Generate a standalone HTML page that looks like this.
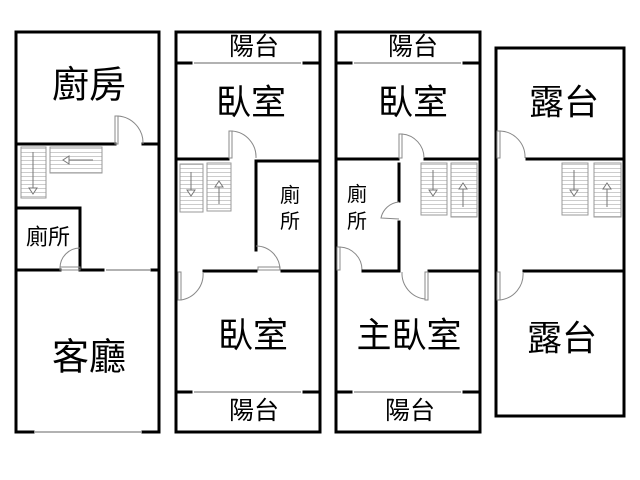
<!DOCTYPE html>
<html><head><meta charset="utf-8"><style>
html,body{margin:0;padding:0;background:#fff;}
svg{display:block}
text{font-family:"Liberation Sans","Noto Sans CJK TC",sans-serif;fill:#000;text-anchor:middle;dominant-baseline:central}
.w{stroke:#000;stroke-width:3;fill:none;stroke-linecap:square}
.g{stroke:#999;stroke-width:1.5;fill:none}
.d{stroke:#888;stroke-width:1;fill:none}
.s{fill:url(#st);stroke:#999;stroke-width:1}
.a{stroke:#777;stroke-width:1;fill:#fff}
</style></head><body>
<svg width="640" height="480" viewBox="0 0 640 480">
<defs><pattern id="st" width="4" height="4" patternUnits="userSpaceOnUse"><rect width="4" height="4" fill="#fff"/><line x1="0" y1="0.5" x2="4" y2="0.5" stroke="#ccc" stroke-width="1"/></pattern></defs>

<!-- PLAN 1 -->
<polyline class="w" points="33,432 16,432 16,32 159,32 159,432 143,432"/>
<line class="g" x1="34" y1="432" x2="142" y2="432"/>
<line class="w" x1="16" y1="144" x2="115" y2="144"/>
<line class="w" x1="143" y1="144" x2="159" y2="144"/>
<rect x="115" y="116" width="3" height="28" class="d"/>
<path class="d" d="M118,116 A27,27 0 0 1 143,144"/>
<rect class="s" x="21" y="147" width="25" height="51"/>
<line class="a" x1="33" y1="152" x2="33" y2="190"/><path class="a" d="M29,188 L37,188 L33,194 Z"/>
<rect class="s" x="50" y="147" width="52" height="26"/>
<line class="a" x1="68" y1="160" x2="93" y2="160"/><path class="a" d="M69,156 L69,164 L63,160 Z"/>
<polyline class="w" points="16,208 80,208 80,270"/>
<line class="w" x1="16" y1="270" x2="60" y2="270"/>
<line class="w" x1="80" y1="270" x2="103" y2="270"/>
<line class="w" x1="152" y1="270" x2="159" y2="270"/>
<line class="g" x1="106" y1="270" x2="150" y2="270"/>
<rect x="60" y="267" width="20" height="3" class="d"/>
<path class="d" d="M60,268 A20,20 0 0 1 80,248"/>
<text x="89" y="85" font-size="37">廚房</text>
<text x="48" y="237" font-size="22">廁所</text>
<text x="89" y="357" font-size="37">客廳</text>

<!-- PLAN 2 -->
<rect class="w" x="176" y="32" width="144" height="400"/>
<line class="w" x1="176" y1="63" x2="191" y2="63"/><line class="w" x1="304" y1="63" x2="320" y2="63"/>
<line class="g" x1="194" y1="63" x2="301" y2="63"/>
<line class="w" x1="176" y1="392" x2="191" y2="392"/><line class="w" x1="304" y1="392" x2="320" y2="392"/>
<line class="g" x1="194" y1="392" x2="301" y2="392"/>
<line class="w" x1="176" y1="159" x2="228" y2="159"/>
<rect x="229" y="131" width="3" height="27" class="d"/>
<path class="d" d="M232,131 A26,26 0 0 1 256,158"/>
<polyline class="w" points="256,250 256,161 320,161"/>
<rect class="s" x="180" y="164" width="23" height="48"/>
<line class="a" x1="191" y1="172" x2="191" y2="192"/><path class="a" d="M187,190 L195,190 L191,196 Z"/>
<rect class="s" x="207" y="163" width="24" height="48"/>
<line class="a" x1="219" y1="204" x2="219" y2="183"/><path class="a" d="M215,187 L223,187 L219,181 Z"/>
<path class="d" d="M256,246 A24,24 0 0 1 280,270"/>
<rect x="258" y="267" width="22" height="3" class="d"/>
<line class="w" x1="204" y1="271" x2="256" y2="271"/>
<line class="w" x1="282" y1="271" x2="320" y2="271"/>
<rect x="178" y="272" width="3" height="28" class="d"/>
<path class="d" d="M181,300 A26,26 0 0 0 203,272"/>
<text x="254" y="47" font-size="25">陽台</text>
<text x="251" y="103" font-size="35">臥室</text>
<text x="290" y="196" font-size="20">廁</text>
<text x="290" y="222" font-size="20">所</text>
<text x="253" y="336" font-size="35">臥室</text>
<text x="254" y="411" font-size="25">陽台</text>

<!-- PLAN 3 -->
<rect class="w" x="336" y="32" width="144" height="400"/>
<line class="w" x1="336" y1="63" x2="351" y2="63"/><line class="w" x1="464" y1="63" x2="480" y2="63"/>
<line class="g" x1="354" y1="63" x2="461" y2="63"/>
<line class="w" x1="336" y1="392" x2="351" y2="392"/><line class="w" x1="464" y1="392" x2="480" y2="392"/>
<line class="g" x1="354" y1="392" x2="461" y2="392"/>
<line class="w" x1="336" y1="159" x2="398" y2="159"/>
<line class="w" x1="425" y1="159" x2="480" y2="159"/>
<rect x="399" y="134" width="3" height="24" class="d"/>
<path class="d" d="M402,134 A24,24 0 0 1 424,158"/>
<line class="w" x1="399" y1="164" x2="399" y2="201"/>
<line class="w" x1="399" y1="222" x2="399" y2="271"/>
<path class="d" d="M399,202 A20,20 0 0 0 381,218 L399,219"/>
<rect class="s" x="421" y="163" width="26" height="52"/>
<line class="a" x1="433" y1="170" x2="433" y2="192"/><path class="a" d="M429,190 L437,190 L433,196 Z"/>
<rect class="s" x="451" y="163" width="26" height="54"/>
<line class="a" x1="463" y1="207" x2="463" y2="185"/><path class="a" d="M459,189 L467,189 L463,183 Z"/>
<rect x="337" y="247" width="3" height="23" class="d"/>
<path class="d" d="M340,247 A23,23 0 0 1 362,270"/>
<line class="w" x1="363" y1="271" x2="399" y2="271"/>
<line class="w" x1="429" y1="271" x2="480" y2="271"/>
<rect x="425" y="272" width="3" height="28" class="d"/>
<path class="d" d="M402,272 A26,26 0 0 0 425,299"/>
<text x="413" y="47" font-size="25">陽台</text>
<text x="413" y="103" font-size="35">臥室</text>
<text x="357" y="195" font-size="20">廁</text>
<text x="357" y="222" font-size="20">所</text>
<text x="409" y="336" font-size="35">主臥室</text>
<text x="410" y="411" font-size="25">陽台</text>

<!-- PLAN 4 -->
<rect class="w" x="496" y="48" width="128" height="368"/>
<line class="w" x1="527" y1="159" x2="624" y2="159"/>
<rect x="497" y="131" width="3" height="27" class="d"/>
<path class="d" d="M500,131 A26,26 0 0 1 525,158"/>
<rect class="s" x="562" y="163" width="26" height="52"/>
<line class="a" x1="574" y1="170" x2="574" y2="192"/><path class="a" d="M570,190 L578,190 L574,196 Z"/>
<rect class="s" x="594" y="163" width="27" height="54"/>
<line class="a" x1="607" y1="207" x2="607" y2="185"/><path class="a" d="M603,189 L611,189 L607,183 Z"/>
<line class="w" x1="524" y1="271" x2="624" y2="271"/>
<rect x="497" y="272" width="3" height="28" class="d"/>
<path class="d" d="M500,300 A26,26 0 0 0 523,272"/>
<text x="564" y="103" font-size="35">露台</text>
<text x="562" y="339" font-size="35">露台</text>
</svg>
</body></html>
